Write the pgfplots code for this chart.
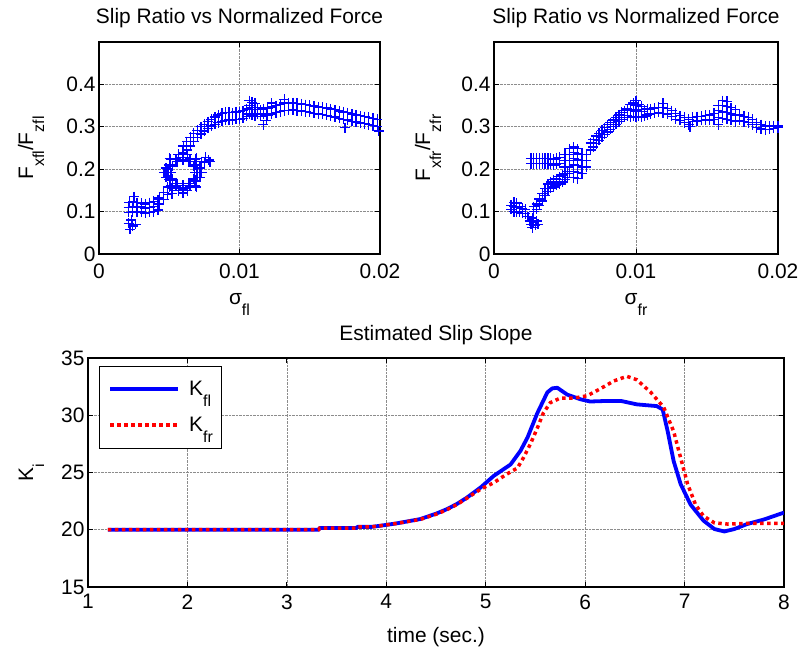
\documentclass[border=0pt]{standalone}
\usepackage{fontspec}
\setmainfont{Liberation Sans}
\usepackage{pgfplots}
\pgfplotsset{compat=1.18}
\newcommand{\sub}[1]{\raisebox{-11bp}{\fontsize{16}{18}\selectfont #1}}

\pgfplotstableread{
x y
0.00220 0.058
0.00240 0.066
0.00210 0.072
0.00260 0.070
0.00230 0.080
0.00210 0.098
0.00210 0.110
0.00215 0.122
0.00240 0.100
0.00240 0.112
0.00245 0.124
0.00250 0.135
0.00270 0.098
0.00270 0.110
0.00270 0.121
0.00300 0.100
0.00300 0.111
0.00300 0.120
0.00330 0.097
0.00330 0.108
0.00330 0.118
0.00360 0.098
0.00360 0.110
0.00360 0.121
0.00390 0.100
0.00390 0.112
0.00390 0.124
0.00420 0.104
0.00420 0.116
0.00420 0.128
0.00430 0.118
0.00430 0.132
0.00460 0.128
0.00460 0.145
0.00490 0.140
0.00490 0.158
0.00520 0.142
0.00520 0.155
0.00682 0.192
0.00671 0.207
0.00640 0.218
0.00597 0.222
0.00555 0.218
0.00523 0.207
0.00512 0.192
0.00523 0.177
0.00555 0.166
0.00597 0.162
0.00640 0.166
0.00671 0.177
0.00718 0.203
0.00685 0.223
0.00629 0.235
0.00565 0.235
0.00509 0.223
0.00476 0.203
0.00476 0.181
0.00509 0.161
0.00565 0.149
0.00629 0.149
0.00685 0.161
0.00718 0.181
0.00702 0.192
0.00650 0.224
0.00545 0.224
0.00492 0.192
0.00545 0.160
0.00650 0.160
0.00690 0.210
0.00597 0.240
0.00500 0.210
0.00500 0.175
0.00597 0.152
0.00690 0.172
0.00697 0.192
0.00684 0.210
0.00647 0.223
0.00597 0.228
0.00547 0.223
0.00510 0.210
0.00497 0.192
0.00510 0.174
0.00547 0.161
0.00597 0.156
0.00647 0.161
0.00684 0.174
0.00732 0.192
0.00692 0.226
0.00597 0.240
0.00502 0.226
0.00462 0.192
0.00502 0.158
0.00597 0.144
0.00692 0.158
0.00750 0.215
0.00780 0.222
0.00760 0.228
0.00730 0.218
0.00790 0.218
0.00600 0.238
0.00600 0.255
0.00625 0.245
0.00625 0.265
0.00650 0.255
0.00650 0.275
0.00675 0.265
0.00675 0.285
0.00700 0.275
0.00700 0.292
0.00725 0.283
0.00725 0.300
0.00750 0.290
0.00750 0.306
0.00775 0.296
0.00775 0.312
0.00800 0.302
0.00800 0.318
0.00825 0.306
0.00825 0.323
0.00850 0.310
0.00850 0.328
0.00875 0.313
0.00875 0.332
0.00900 0.315
0.00900 0.334
0.00925 0.316
0.00925 0.334
0.00950 0.316
0.00950 0.333
0.00975 0.318
0.00975 0.335
0.01000 0.318
0.01000 0.336
0.01025 0.320
0.01025 0.338
0.01050 0.325
0.01050 0.342
0.01070 0.330
0.01070 0.350
0.01070 0.362
0.01090 0.328
0.01090 0.345
0.01090 0.358
0.01110 0.325
0.01110 0.340
0.01110 0.355
0.01130 0.330
0.01130 0.345
0.01150 0.325
0.01150 0.340
0.01170 0.305
0.01170 0.330
0.01170 0.342
0.01190 0.315
0.01190 0.328
0.01200 0.326
0.01200 0.344
0.01230 0.330
0.01230 0.347
0.01230 0.356
0.01260 0.333
0.01260 0.350
0.01290 0.336
0.01290 0.353
0.01320 0.338
0.01320 0.356
0.01320 0.365
0.01350 0.339
0.01350 0.355
0.01380 0.340
0.01380 0.357
0.01410 0.338
0.01410 0.355
0.01440 0.337
0.01440 0.354
0.01470 0.336
0.01470 0.352
0.01500 0.334
0.01500 0.351
0.01530 0.332
0.01530 0.349
0.01560 0.330
0.01560 0.347
0.01590 0.329
0.01590 0.346
0.01620 0.327
0.01620 0.344
0.01650 0.325
0.01650 0.342
0.01680 0.323
0.01680 0.340
0.01710 0.320
0.01710 0.337
0.01740 0.318
0.01740 0.335
0.01750 0.298
0.01770 0.316
0.01770 0.333
0.01800 0.313
0.01800 0.330
0.01830 0.311
0.01830 0.328
0.01860 0.309
0.01860 0.326
0.01890 0.307
0.01890 0.324
0.01920 0.305
0.01920 0.322
0.01950 0.303
0.01950 0.320
0.01980 0.300
0.01980 0.318
0.01990 0.290
0.02010 0.298
0.02010 0.316
}\fldata

\pgfplotstableread{
x y
0.00120 0.105
0.00120 0.115
0.00140 0.100
0.00140 0.112
0.00140 0.122
0.00160 0.098
0.00160 0.110
0.00160 0.120
0.00180 0.100
0.00180 0.112
0.00200 0.096
0.00200 0.108
0.00220 0.095
0.00220 0.105
0.00240 0.088
0.00250 0.078
0.00260 0.070
0.00270 0.062
0.00280 0.075
0.00290 0.068
0.00300 0.078
0.00310 0.070
0.00270 0.085
0.00280 0.100
0.00280 0.112
0.00300 0.105
0.00300 0.118
0.00320 0.115
0.00320 0.130
0.00340 0.125
0.00340 0.142
0.00360 0.138
0.00360 0.155
0.00380 0.148
0.00380 0.165
0.00400 0.155
0.00400 0.170
0.00420 0.158
0.00420 0.175
0.00440 0.162
0.00440 0.178
0.00460 0.165
0.00460 0.182
0.00480 0.170
0.00480 0.186
0.00500 0.175
0.00500 0.190
0.00520 0.180
0.00520 0.195
0.00260 0.213
0.00260 0.226
0.00280 0.213
0.00280 0.226
0.00300 0.213
0.00300 0.226
0.00320 0.213
0.00320 0.226
0.00340 0.213
0.00340 0.226
0.00360 0.213
0.00360 0.226
0.00380 0.213
0.00380 0.226
0.00400 0.213
0.00400 0.226
0.00420 0.210
0.00420 0.224
0.00440 0.212
0.00440 0.226
0.00460 0.214
0.00460 0.228
0.00500 0.205
0.00500 0.220
0.00500 0.235
0.00530 0.190
0.00530 0.205
0.00530 0.220
0.00530 0.235
0.00530 0.248
0.00560 0.180
0.00560 0.195
0.00560 0.210
0.00560 0.225
0.00560 0.240
0.00560 0.252
0.00590 0.178
0.00590 0.192
0.00590 0.208
0.00590 0.222
0.00590 0.236
0.00590 0.248
0.00620 0.190
0.00620 0.205
0.00620 0.220
0.00620 0.235
0.00650 0.205
0.00650 0.220
0.00650 0.235
0.00680 0.245
0.00680 0.262
0.00700 0.252
0.00700 0.270
0.00720 0.260
0.00720 0.278
0.00740 0.268
0.00740 0.285
0.00760 0.275
0.00760 0.292
0.00780 0.282
0.00780 0.298
0.00800 0.288
0.00800 0.305
0.00820 0.294
0.00820 0.310
0.00840 0.300
0.00840 0.316
0.00860 0.306
0.00860 0.322
0.00880 0.312
0.00880 0.328
0.00900 0.318
0.00900 0.334
0.00920 0.322
0.00920 0.338
0.00940 0.326
0.00940 0.342
0.00960 0.322
0.00960 0.338
0.00960 0.352
0.00980 0.325
0.00980 0.340
0.00980 0.356
0.01000 0.322
0.01000 0.337
0.01000 0.350
0.01000 0.362
0.01020 0.325
0.01020 0.340
0.01020 0.352
0.01040 0.322
0.01040 0.336
0.01040 0.348
0.01060 0.325
0.01060 0.340
0.01080 0.328
0.01080 0.342
0.01100 0.330
0.01100 0.342
0.01130 0.332
0.01130 0.344
0.01160 0.334
0.01160 0.346
0.01190 0.332
0.01190 0.346
0.01190 0.355
0.01220 0.330
0.01220 0.343
0.01250 0.325
0.01250 0.338
0.01280 0.318
0.01280 0.332
0.01310 0.315
0.01310 0.326
0.01340 0.310
0.01340 0.322
0.01370 0.305
0.01370 0.318
0.01380 0.300
0.01400 0.312
0.01400 0.322
0.01430 0.314
0.01430 0.324
0.01460 0.315
0.01460 0.325
0.01490 0.316
0.01490 0.327
0.01520 0.315
0.01520 0.328
0.01550 0.318
0.01550 0.332
0.01580 0.305
0.01580 0.322
0.01580 0.338
0.01580 0.350
0.01610 0.320
0.01610 0.335
0.01610 0.350
0.01610 0.362
0.01640 0.318
0.01640 0.333
0.01640 0.348
0.01640 0.360
0.01670 0.315
0.01670 0.330
0.01670 0.345
0.01700 0.312
0.01700 0.326
0.01700 0.340
0.01730 0.315
0.01730 0.328
0.01760 0.312
0.01760 0.325
0.01790 0.310
0.01790 0.322
0.01820 0.305
0.01820 0.318
0.01850 0.298
0.01850 0.310
0.01880 0.295
0.01880 0.305
0.01910 0.293
0.01910 0.302
0.01940 0.294
0.01940 0.302
0.01970 0.296
0.01970 0.303
0.02000 0.298
0.02000 0.302
}\frdata

\pgfplotstableread{
t K
1.20 20.00
3.32 20.00
3.33 20.15
3.70 20.15
3.71 20.25
3.85 20.25
3.94 20.35
4.10 20.55
4.34 20.93
4.50 21.40
4.61 21.80
4.71 22.25
4.81 22.80
4.95 23.70
5.08 24.70
5.25 25.70
5.35 26.90
5.42 28.05
5.52 30.20
5.62 32.00
5.67 32.35
5.72 32.40
5.82 31.80
5.95 31.40
6.05 31.20
6.22 31.25
6.36 31.25
6.52 30.95
6.72 30.80
6.78 30.50
6.83 28.60
6.89 26.00
6.96 24.00
7.06 22.20
7.19 20.80
7.30 20.06
7.40 19.85
7.50 20.06
7.63 20.50
7.80 20.90
8.00 21.50
}\kfl

\pgfplotstableread{
t K
1.20 20.00
3.32 20.00
3.33 20.15
3.70 20.15
3.71 20.25
3.85 20.25
3.94 20.35
4.10 20.55
4.34 20.90
4.50 21.35
4.61 21.75
4.71 22.20
4.81 22.75
4.95 23.55
5.08 24.10
5.21 24.85
5.32 25.40
5.38 26.30
5.45 27.50
5.52 28.90
5.58 30.20
5.65 31.10
5.75 31.50
5.89 31.50
6.02 31.70
6.15 32.30
6.29 33.00
6.42 33.40
6.52 33.10
6.66 32.00
6.79 30.70
6.89 28.60
6.96 26.30
7.03 24.00
7.11 22.20
7.19 21.20
7.30 20.60
7.43 20.50
7.63 20.55
8.00 20.55
}\kfr

\pgfplotsset{
  matlab/.style={
    scale only axis,
    anchor=south west,
    axis line style={line width=1.1bp},
    tick align=inside,
    major tick length=5bp,
    tick style={black, line width=0.8bp},
    grid=major,
    grid style={densely dotted, black!45, line width=0.7bp},
    scaled x ticks=false, scaled y ticks=false,
    /pgf/number format/assume math mode=true,
    title style={yshift=5bp},
  },
  scat/.style={only marks, mark=+, color=blue, mark size=5bp, line width=1.3bp},
}

\begin{document}
\begin{tikzpicture}[font=\fontsize{21}{25}\selectfont]
\path[use as bounding box] (0bp,0bp) rectangle (802bp,647bp);

\begin{axis}[matlab,
  at={(99bp,393bp)}, width=281bp, height=212bp,
  xmin=0, xmax=0.02, ymin=0, ymax=0.5,
  xtick={0,0.01,0.02}, xticklabels={0,0.01,0.02},
  ytick={0,0.1,0.2,0.3,0.4}, yticklabels={0,0.1,0.2,0.3,0.4},
  x tick label style={yshift=-6bp},
  title={Slip Ratio vs Normalized Force},
  xlabel={σ\sub{fl}},
  ylabel={F\sub{xfl}/F\sub{zfl}},
  x label style={at={(axis description cs:0.5,0)}, anchor=base, yshift=-51bp},
  y label style={at={(axis description cs:-0.234,0.5)}, anchor=base},
]
\addplot[scat] table[x=x,y=y] {\fldata};
\end{axis}

\begin{axis}[matlab,
  at={(494bp,393bp)}, width=284bp, height=212bp,
  xmin=0, xmax=0.02, ymin=0, ymax=0.5,
  xtick={0,0.01,0.02}, xticklabels={0,0.01,0.02},
  ytick={0,0.1,0.2,0.3,0.4}, yticklabels={0,0.1,0.2,0.3,0.4},
  x tick label style={yshift=-6bp},
  title={Slip Ratio vs Normalized Force},
  xlabel={σ\sub{fr}},
  ylabel={F\sub{xfr}/F\sub{zfr}},
  x label style={at={(axis description cs:0.5,0)}, anchor=base, yshift=-51bp},
  y label style={at={(axis description cs:-0.225,0.5)}, anchor=base},
]
\addplot[scat] table[x=x,y=y] {\frdata};
\end{axis}

\begin{axis}[matlab,
  at={(88bp,60bp)}, width=696bp, height=229bp,
  xmin=1, xmax=8, ymin=15, ymax=35,
  xtick={1,2,3,4,5,6,7,8}, xticklabels={1,2,3,4,5,6,7,8},
  ytick={15,20,25,30,35}, yticklabels={15,20,25,30,35},
  title={Estimated Slip Slope},
  title style={yshift=-1bp},
  x tick label style={yshift=-4bp},
  xlabel={time (sec.)},
  ylabel={K\sub{i}},
  x label style={at={(axis description cs:0.5,0)}, anchor=base, yshift=-55bp},
  y label style={at={(axis description cs:-0.079,0.5)}, anchor=base},
  legend style={at={(rel axis cs:0,1)}, anchor=north west, xshift=11bp, yshift=-8bp,
    draw=black, line width=0.8bp, fill=white, inner xsep=9bp, inner ysep=15bp,
    row sep=20bp, column sep=9bp, nodes={inner sep=0bp}},
  legend cell align=left,
  legend image code/.code={\draw[#1] (0bp,0bp) -- (68bp,0bp);},
]
\addplot[blue, line width=3.8bp, line join=round] table[x=t,y=K] {\kfl};
\addlegendentry{K\sub{fl}}
\addplot[red, line width=3.5bp, dash pattern=on 3.5bp off 3.5bp] table[x=t,y=K] {\kfr};
\addlegendentry{K\sub{fr}}
\end{axis}
\end{tikzpicture}
\end{document}
